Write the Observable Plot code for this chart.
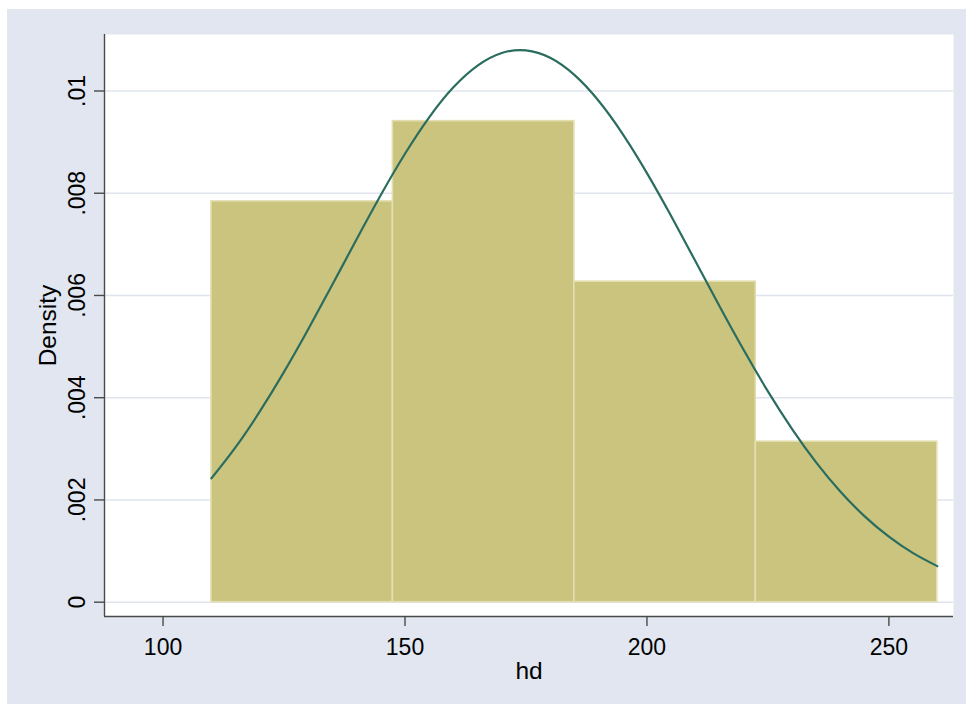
<!DOCTYPE html>
<html>
<head>
<meta charset="utf-8">
<script src="https://cdn.jsdelivr.net/npm/d3@7"></script>
<script src="https://cdn.jsdelivr.net/npm/@observablehq/plot@0.6"></script>
<style>
  html, body { margin: 0; padding: 0; background: #ffffff; }
  #wrap { position: relative; width: 966px; height: 704px; overflow: hidden; }
  #bg { position: absolute; left: 7px; top: 9px; width: 959px; height: 695px; background: #e1e6f0; }
  #chart { position: absolute; left: 0; top: 0; }
</style>
</head>
<body>
<div id="wrap"><div id="bg"></div><div id="chart"></div></div>
<script>
// Histogram bins (hd) and densities
const binStart = [110, 147.5, 185, 222.5];
const binEnd   = [147.5, 185, 222.5, 260];
const density  = [0.00784, 0.00941, 0.00627, 0.00314];

// Overlaid normal density curve
const curveX = [110, 115, 120, 125, 130, 135, 140, 145, 150, 155, 160, 165, 170, 175, 180, 185,
                190, 195, 200, 205, 210, 215, 220, 225, 230, 235, 240, 245, 250, 255, 260];
const curveY = [0.002423, 0.003034, 0.003731, 0.004505, 0.005339, 0.006214, 0.007099, 0.007965,
                0.008772, 0.009485, 0.010071, 0.010497, 0.010743, 0.010794, 0.010649, 0.010314,
                0.009808, 0.009157, 0.008394, 0.007554, 0.006674, 0.005790, 0.004932, 0.004124,
                0.003387, 0.002730, 0.002160, 0.001679, 0.001281, 0.000959, 0.000705];

// Axis ticks and labels
const xTicks = [100, 150, 200, 250];
const xTickLabels = ["100", "150", "200", "250"];
const yTicks = [0, 0.002, 0.004, 0.006, 0.008, 0.01];
const yTickLabels = ["0", ".002", ".004", ".006", ".008", ".01"];
const xTitle = "hd";
const yTitle = "Density";

const xDomain = [87.9, 263.35];
const yDomain = [-0.00028, 0.011105];

const bars = binStart.map((s, i) => ({x1: s, x2: binEnd[i], y: density[i]}));
const curve = curveX.map((x, i) => ({x, y: curveY[i]}));

const font = "'Liberation Sans', Arial, Helvetica, sans-serif";
const axisColor = "#4a4a4a";

const chart = Plot.plot({
  width: 966,
  height: 704,
  marginLeft: 104,
  marginRight: 13,
  marginTop: 34,
  marginBottom: 88,
  style: {background: "transparent", fontFamily: font, fontSize: "23px", color: "#000"},
  x: {type: "linear", domain: xDomain, axis: null},
  y: {type: "linear", domain: yDomain, axis: null},
  marks: [
    Plot.frame({fill: "#ffffff", stroke: null}),
    Plot.gridY(yTicks, {stroke: "#dfe4ee", strokeOpacity: 1, strokeWidth: 1.6}),
    Plot.rectY(bars, {x1: "x1", x2: "x2", y: "y", fill: "#cbc47f", stroke: "#e2deb0", strokeWidth: 1.6}),
    Plot.line(curve, {x: "x", y: "y", curve: "natural", stroke: "#2a6d5f", strokeWidth: 2.2}),
    Plot.ruleX([xDomain[0]], {stroke: axisColor, strokeWidth: 1.4}),
    Plot.ruleY([yDomain[0]], {stroke: axisColor, strokeWidth: 1.4}),
    Plot.axisX(xTicks, {anchor: "bottom", tickSize: 10, tickPadding: 12, tickFormat: (d, i) => xTickLabels[i], stroke: axisColor, strokeWidth: 1.4, fontSize: 23, label: null}),
    Plot.axisY(yTicks, {anchor: "left", tickSize: 10, tickPadding: 17, tickRotate: -90, textAnchor: "middle", lineAnchor: "middle", tickFormat: (d, i) => yTickLabels[i], stroke: axisColor, strokeWidth: 1.4, fontSize: 23, label: null}),
    Plot.text([xTitle], {frameAnchor: "bottom", dy: 54.2, text: d => d, fontSize: 24.5, textAnchor: "middle", lineAnchor: "middle", fill: "#000"}),
    Plot.text([yTitle], {frameAnchor: "left", dx: -56.8, rotate: -90, text: d => d, fontSize: 24.5, textAnchor: "middle", lineAnchor: "middle", fill: "#000"})
  ]
});
document.getElementById("chart").appendChild(chart);
</script>
</body>
</html>
